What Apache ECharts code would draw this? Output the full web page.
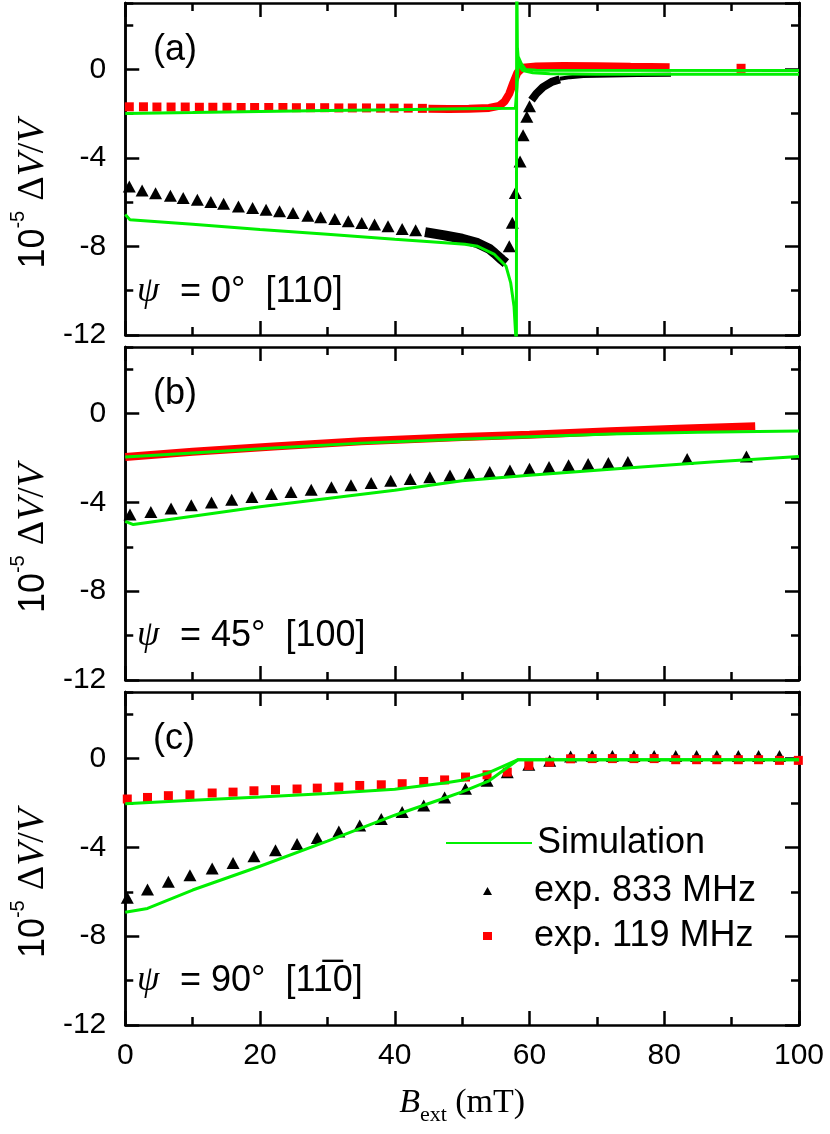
<!DOCTYPE html>
<html><head><meta charset="utf-8">
<script src="https://cdn.jsdelivr.net/npm/echarts@6/dist/echarts.min.js"></script>
<style>html,body{margin:0;padding:0;background:#fff}#c{width:830px;height:1134px}</style>
</head><body><div id="c"></div>
<script>
// ---------- axis ranges / ticks ----------
const X_MIN = 0, X_MAX = 100, X_INT = 20;
const Y_MIN = -12, Y_MAX = 3, Y_INT = 4, Y_MINOR_INT = 2;
const panelTags = ['(a)', '(b)', '(c)'];
const psiAngles = ['= 0°  [110]', '= 45°  [100]', '= 90°  [11\u03050]'];
const legendNames = ['Simulation', 'exp. 833 MHz', 'exp. 119 MHz'];

// ---------- panel (a)  psi = 0 ----------
const a833Tri = [[0.6,-5.29],[2.5,-5.47],[4.5,-5.59],[6.7,-5.71],[8.6,-5.81],[10.7,-5.89],[12.7,-5.99],[14.6,-6.07],[16.8,-6.19],[18.9,-6.26],[20.9,-6.34],[22.9,-6.41],[24.9,-6.49],[27.1,-6.61],[29.0,-6.68],[31.1,-6.76],[33.1,-6.86],[35.1,-6.94],[37.0,-7.01],[39.0,-7.09],[41.1,-7.21],[43.1,-7.27],
  [57.0,-7.99],[57.45,-6.93],[57.9,-5.58],[58.6,-4.16],[59.05,-2.97],[59.6,-2.14],[60.0,-1.66]];
const a833Dense1 = [[44.5,-7.35],[47.4,-7.5],[50,-7.65],[52.3,-7.85],[54,-8.1],[54.8,-8.3],[55.9,-8.6],[56.5,-8.75]];
const a833Dense2 = [[60.3,-1.39],[61,-1.1],[62,-0.8],[63.4,-0.55],[64.5,-0.45]];
const a833Dense3 = [[64.5,-0.42],[66,-0.35],[68,-0.3],[72,-0.27],[76,-0.25],[81,-0.24]];
const a119Sq = [[0.6,-1.69],[2.7,-1.69],[4.7,-1.70],[6.8,-1.70],[8.9,-1.70],[11.0,-1.71],[13.0,-1.71],[15.1,-1.71],[17.2,-1.72],[19.2,-1.72],[21.3,-1.72],[23.4,-1.72],[25.4,-1.73],[27.5,-1.73],[29.6,-1.73],[31.7,-1.74],[33.7,-1.74],[35.8,-1.74],[37.9,-1.75],[39.9,-1.75],[42.0,-1.75],[44.1,-1.76],[91.4,0.05]];
const a119Dense = [[45,-1.78],[48,-1.79],[51,-1.78],[54,-1.74],[55.5,-1.65],[56.3,-1.45],[57,-1.1],[57.6,-0.6],[58.2,-0.15],[59,0.08],[61,0.13],[65,0.15],[70,0.14],[75,0.12],[80.8,0.1]];
const simA833 = [[0,-6.56],[0.7,-6.79],[10,-7.0],[20,-7.23],[30,-7.45],[40,-7.67],[47.4,-7.83],[50.4,-7.9],[52.3,-7.99],[54.8,-8.36],[56.5,-8.88],[57.2,-9.63],[57.7,-10.7],[57.95,-12],[58.05,-14],[58.1,5],[58.2,1.0],[58.4,0.2],[59,-0.05],[60.5,-0.15],[63,-0.2],[70,-0.22],[100,-0.22]];
const simA119 = [[0,-1.99],[10,-1.95],[20,-1.9],[30,-1.86],[40,-1.82],[50,-1.78],[57.9,-1.76],[58.05,-1.7],[58.15,-0.8],[58.35,0.55],[58.8,0.25],[59.4,0.0],[61,-0.04],[100,-0.05]];

// ---------- panel (b)  psi = 45 ----------
const b833Tri = [[0.7,-4.55],[3.8,-4.43],[6.8,-4.28],[9.8,-4.13],[12.8,-4.0],[15.8,-3.88],[18.8,-3.76],[21.7,-3.62],[24.6,-3.53],[27.6,-3.43],[30.6,-3.32],[33.5,-3.23],[36.5,-3.13],[39.4,-3.02],[42.3,-2.95],[45.2,-2.87],[48.2,-2.79],[51.1,-2.71],[54.1,-2.63],[57.1,-2.56],[60.0,-2.48],[62.9,-2.41],[65.8,-2.33],[68.7,-2.27],[71.7,-2.23],[74.6,-2.18],[83.4,-2.05],[92.2,-1.93]];
const b119Dense = [[0,-1.96],[10,-1.72],[22,-1.48],[35,-1.25],[50,-1.05],[60,-0.95],[72,-0.79],[82,-0.68],[93.5,-0.57]];
const simB833 = [[0,-4.85],[1.2,-5.0],[10,-4.62],[20,-4.2],[30,-3.82],[40,-3.45],[50,-3.02],[60,-2.78],[74.5,-2.45],[87,-2.18],[100,-1.93]];
const simB119 = [[0,-1.96],[10,-1.77],[22,-1.55],[35,-1.33],[47.4,-1.18],[60,-1.04],[72,-0.92],[85,-0.84],[100,-0.78]];

// ---------- panel (c)  psi = 90 ----------
const c833Tri = [[0.3,-6.27],[3.3,-5.90],[6.4,-5.55],[9.6,-5.25],[12.9,-4.95],[16.0,-4.70],[19.1,-4.40],[22.3,-4.13],[25.5,-3.85],[28.5,-3.58],[31.7,-3.28],[34.8,-3.01],[38.0,-2.72],[41.1,-2.41],[44.3,-2.11],[47.4,-1.75],[50.5,-1.36],[53.7,-1.0],[56.7,-0.61],[59.9,-0.28],[63.0,-0.10],[66.1,0.09],[69.3,0.12],[72.3,0.12],[75.5,0.12],[78.5,0.12],[81.7,0.12],[84.8,0.12],[87.8,0.12],[91.0,0.12],[94.0,0.12],[97.1,0.12]];
const c119Sq = [[0.3,-1.82],[3.3,-1.75],[6.4,-1.67],[9.6,-1.63],[12.9,-1.55],[16.0,-1.51],[19.1,-1.45],[22.3,-1.40],[25.5,-1.37],[28.5,-1.33],[31.7,-1.28],[34.8,-1.21],[38.0,-1.18],[41.1,-1.13],[44.3,-1.03],[47.4,-0.96],[50.5,-0.83],[53.7,-0.73],[56.7,-0.61],[59.9,-0.31],[63.0,-0.16],[66.1,-0.01],[69.3,0.0],[72.3,0.0],[75.5,0.0],[78.5,0.0],[81.7,-0.05],[84.8,-0.05],[87.8,-0.05],[91.0,-0.05],[94.0,-0.05],[97.1,-0.08],[99.9,-0.08]];
const simC833 = [[0,-6.92],[3.3,-6.75],[10,-5.92],[20,-4.85],[30,-3.72],[40,-2.55],[47,-1.82],[50,-1.5],[54,-1.0],[58.3,-0.05],[100,-0.05]];
const simC119 = [[0,-2.03],[10,-1.88],[20,-1.73],[30,-1.57],[40,-1.38],[47.4,-1.1],[50.2,-0.96],[53.7,-0.66],[58.3,-0.05],[100,-0.05]];

const panels = [
  {tri: a833Tri, sq: a119Sq, blackDense: [[a833Dense1, 10], [a833Dense2, 8], [a833Dense3, 4]], redDense: [a119Dense], sims: [simA833, simA119]},
  {tri: b833Tri, sq: [], blackDense: [], redDense: [b119Dense], sims: [simB833, simB119]},
  {tri: c833Tri, sq: c119Sq, blackDense: [], redDense: [], sims: [simC833, simC119]}
];

// ---------- layout ----------
const gridTops = [3, 347, 692];
const gridHeights = [332, 333, 333];
const BLACK = '#000', RED = '#ff0000', GREEN = '#00f000';
const SANS = 'Liberation Sans', SERIF = 'Liberation Serif';

const grid = gridTops.map((t, i) => ({left: 116, right: 31, top: t, height: gridHeights[i]}));

const lineAx = {show: true, onZero: false, lineStyle: {color: BLACK, width: 2.5}};
function xAx(gi, pos, labels) {
  const ax = {type: 'value', gridIndex: gi, position: pos, min: X_MIN, max: X_MAX, interval: X_INT,
    axisLine: lineAx,
    axisTick: {show: true, inside: true, length: 14, lineStyle: {color: BLACK, width: 2.5}},
    minorTick: {show: true, splitNumber: 2, length: 8, lineStyle: {color: BLACK, width: 2.5}},
    axisLabel: {show: labels, margin: 16, fontSize: 30, color: BLACK, fontFamily: SANS},
    splitLine: {show: false}};
  if (labels) {
    ax.name = '{b|B}{sub|ext}{t| (mT)}';
    ax.nameLocation = 'middle';
    ax.nameGap = 44;
    ax.nameTextStyle = {rich: {
      b: {fontFamily: SERIF, fontStyle: 'italic', fontSize: 34, lineHeight: 40, verticalAlign: 'top', color: BLACK},
      sub: {fontFamily: SERIF, fontSize: 22, lineHeight: 22, padding: [32, 0, 0, 0], verticalAlign: 'bottom', color: BLACK},
      t: {fontFamily: SERIF, fontSize: 34, lineHeight: 40, verticalAlign: 'top', color: BLACK}
    }};
  }
  return ax;
}
function yAx(gi, pos, interval, len, labels) {
  const ax = {type: 'value', gridIndex: gi, position: pos, min: Y_MIN, max: Y_MAX, interval: interval,
    axisLine: lineAx,
    axisTick: {show: true, inside: true, length: len, lineStyle: {color: BLACK, width: 2.5}},
    axisLabel: {show: labels, margin: 19, fontSize: 30, color: BLACK, fontFamily: SANS, showMaxLabel: false},
    splitLine: {show: false}};
  if (labels) {
    ax.name = '{n|10}{sup|-5}{n| }{d|Δ}{v|V}{d|/}{v|V}';
    ax.nameLocation = 'middle';
    ax.nameRotate = 90;
    ax.nameGap = 64;
    ax.nameTextStyle = {padding: [0, 50, 0, 0], rich: {
      n: {fontFamily: SANS, fontSize: 36, lineHeight: 44, verticalAlign: 'bottom', color: BLACK},
      sup: {fontFamily: SANS, fontSize: 20, lineHeight: 20, verticalAlign: 'top', color: BLACK},
      d: {fontFamily: SERIF, fontSize: 38, lineHeight: 44, verticalAlign: 'bottom', color: BLACK},
      v: {fontFamily: SERIF, fontStyle: 'italic', fontSize: 38, lineHeight: 44, verticalAlign: 'bottom', color: BLACK}
    }};
  }
  return ax;
}

const xAxis = [], yAxis = [], series = [], graphic = [];
panels.forEach((p, gi) => {
  xAxis.push(xAx(gi, 'bottom', gi === 2), xAx(gi, 'top', false));
  yAxis.push(yAx(gi, 'left', Y_INT, 14, true), yAx(gi, 'right', Y_INT, 14, false),
             yAx(gi, 'left', Y_MINOR_INT, 8, false), yAx(gi, 'right', Y_MINOR_INT, 8, false));
  const xi = gi * 2, yi = gi * 4;
  series.push({type: 'scatter', name: legendNames[1], xAxisIndex: xi, yAxisIndex: yi, data: p.tri,
    symbol: 'triangle', symbolSize: [13, 12], itemStyle: {color: BLACK, opacity: 1}, z: 2, clip: true});
  p.blackDense.forEach(([d, w]) => series.push({type: 'line', name: 'dense 833', xAxisIndex: xi, yAxisIndex: yi, data: d,
    showSymbol: false, symbol: 'none', lineStyle: {color: BLACK, width: w}, z: 2}));
  if (p.sq.length) series.push({type: 'scatter', name: legendNames[2], xAxisIndex: xi, yAxisIndex: yi, data: p.sq,
    symbol: 'rect', symbolSize: [9, 9], itemStyle: {color: RED, opacity: 1}, z: 3, clip: true});
  p.redDense.forEach(d => series.push({type: 'line', name: 'dense 119', xAxisIndex: xi, yAxisIndex: yi, data: d,
    showSymbol: false, symbol: 'none', lineStyle: {color: RED, width: 8}, z: 3}));
  p.sims.forEach(d => series.push({type: 'line', name: legendNames[0], xAxisIndex: xi, yAxisIndex: yi, data: d,
    showSymbol: false, symbol: 'none', lineStyle: {color: GREEN, width: 3}, itemStyle: {color: GREEN}, z: 4, clip: true}));

  const top = gridTops[gi];
  graphic.push({type: 'text', x: 153, y: top + 47, style: {text: panelTags[gi], fontSize: 36, fontFamily: SANS, fill: BLACK, verticalAlign: 'middle'}});
  graphic.push({type: 'text', x: 137, y: top + 289, style: {text: 'ψ', fontSize: 36, fontFamily: SERIF, fontStyle: 'italic', fill: BLACK, verticalAlign: 'middle'}});
  graphic.push({type: 'text', x: 180, y: top + 289, style: {text: psiAngles[gi], fontSize: 36, fontFamily: SANS, fill: BLACK, verticalAlign: 'middle'}});
});

const legTxt = {fontSize: 36, fontFamily: SANS, color: BLACK, lineHeight: 40};
const chart = echarts.init(document.getElementById('c'));
chart.setOption({
  animation: false,
  backgroundColor: '#fff',
  grid, xAxis, yAxis, series, graphic,
  legend: [
    {data: [{name: legendNames[0], itemStyle: {opacity: 0}}], left: 440, top: 818, itemWidth: 86, itemHeight: 9,
      selectedMode: false, textStyle: Object.assign({padding: [0, 0, 0, 0]}, legTxt)},
    {data: [{name: legendNames[1], icon: 'triangle'}, {name: legendNames[2], icon: 'rect'}], orient: 'vertical',
      left: 478, top: 866, itemWidth: 9, itemHeight: 8, itemGap: 5,
      selectedMode: false, textStyle: Object.assign({padding: [0, 0, 0, 37]}, legTxt)}
  ]
});
</script></body></html>
